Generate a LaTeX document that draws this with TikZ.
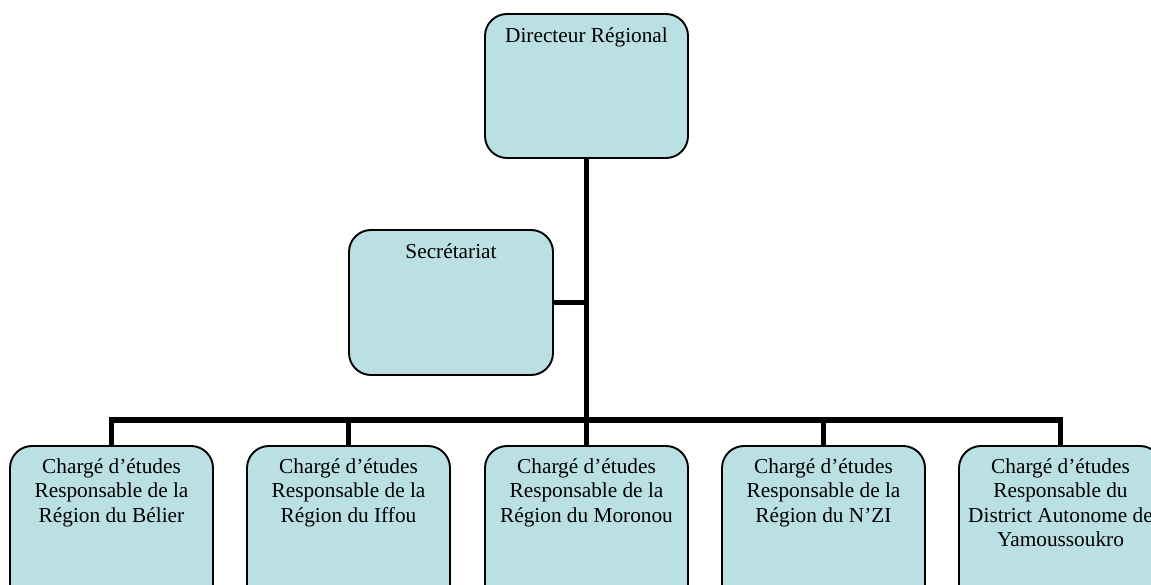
\documentclass[tikz,border=0pt]{standalone}
\usepackage{fontspec}
\setmainfont{Liberation Serif}
\definecolor{boxfill}{RGB}{187,224,227}
\begin{document}
\begin{tikzpicture}[x=1pt,y=-1pt,
  box/.style={draw=black, line width=1.9pt, fill=boxfill, rounded corners=22pt,
    minimum width=203pt, minimum height=144pt, inner sep=0pt},
  lbl/.style={anchor=north, align=center, inner sep=0pt,
    font=\fontsize{21.3}{24.5}\selectfont},
  conn/.style={line width=5.5pt, line join=miter}]
\useasboundingbox (0,0) rectangle (1151,585);
\clip (0,0) rectangle (1151,585);
% boxes
\node[box] (dir) at (586.5,86) {};
\node[box, minimum height=145pt, minimum width=204pt] (sec) at (451,302.5) {};
\node[box, minimum height=170pt] (b1) at (111.5,531) {};
\node[box, minimum height=170pt] (b2) at (348.5,531) {};
\node[box, minimum height=170pt] (b3) at (586.5,531) {};
\node[box, minimum height=170pt] (b4) at (823.5,531) {};
\node[box, minimum height=170pt] (b5) at (1060.5,531) {};
% labels
\node[lbl] (tdir) at ([yshift=-14pt]dir.north) {Directeur Régional};
\node[lbl] (tsec) at ([yshift=-14pt]sec.north) {Secrétariat};
\node[lbl] (t1) at ([yshift=-13pt]b1.north) {Chargé d’études\\Responsable de la\\Région du Bélier};
\node[lbl] (t2) at ([yshift=-13pt]b2.north) {Chargé d’études\\Responsable de la\\Région du Iffou};
\node[lbl] (t3) at ([yshift=-13pt]b3.north) {Chargé d’études\\Responsable de la\\Région du Moronou};
\node[lbl] (t4) at ([yshift=-13pt]b4.north) {Chargé d’études\\Responsable de la\\Région du N’ZI};
\node[lbl] (t5) at ([yshift=-13pt]b5.north) {Chargé d’études\\Responsable du\\District Autonome de\\Yamoussoukro};
% connectors
\coordinate (bus) at (586.5,420);
\draw[conn] (dir.south) -- (dir.south |- bus);
\draw[conn] (sec.east) -- (sec.east -| dir.south);
\draw[conn] (b1.north) -- (b1.north |- bus) -- (b5.north |- bus) -- (b5.north);
\draw[conn] (b2.north) -- (b2.north |- bus);
\draw[conn] (b3.north) -- (b3.north |- bus);
\draw[conn] (b4.north) -- (b4.north |- bus);
\end{tikzpicture}
\end{document}
